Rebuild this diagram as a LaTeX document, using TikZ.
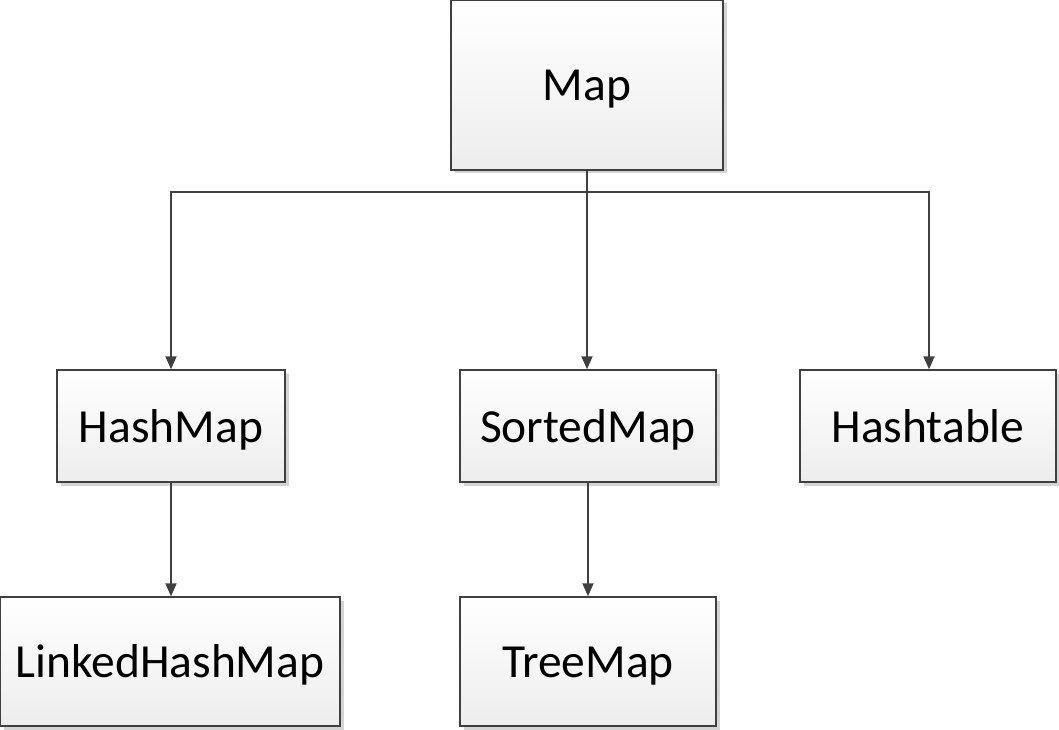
\documentclass[tikz,border=0pt]{standalone}
\usepackage{fontspec}
\setmainfont{Carlito}
\usetikzlibrary{arrows.meta,shadows}
\definecolor{edge}{HTML}{404040}
\definecolor{boxtop}{HTML}{FFFFFF}
\definecolor{boxbot}{HTML}{EDEDED}
\definecolor{shadowgray}{HTML}{D4D4D4}
\begin{document}
\begin{tikzpicture}[x=1pt,y=-1pt,
  cls/.style={draw=edge, line width=1.4pt, top color=boxtop, bottom color=boxbot,
    inner sep=0pt, text height=32pt, text depth=0pt, font=\fontsize{47.5}{56}\selectfont,
    drop shadow={shadow xshift=3.5pt, shadow yshift=-3.5pt, fill=shadowgray, opacity=1}},
  link/.style={draw=edge, line width=1.9pt, -{Triangle[length=13pt,width=11pt]}}]
\useasboundingbox (0,0) rectangle (1059,730);
\node[cls, minimum width=272pt, minimum height=170pt] (map) at (587,85) {Map};
\node[cls, minimum width=228pt, minimum height=112pt] (hash) at (171,426) {HashMap};
\node[cls, minimum width=256pt, minimum height=112pt] (sorted) at (588,426) {SortedMap};
\node[cls, minimum width=256pt, minimum height=112pt] (table) at (928,426) {Hashtable};
\node[cls, minimum width=340pt, minimum height=129pt] (linked) at (170,661.5) {LinkedHashMap};
\node[cls, minimum width=256pt, minimum height=129pt] (tree) at (588,661.5) {TreeMap};
\coordinate (j) at (587,192);
\draw[link] (map.south) -- (j) -| (hash.north);
\draw[link] (j) -- (sorted.north -| j);
\draw[link] (j) -| ([xshift=1pt]table.north);
\draw[link] (hash.south) -- (hash.south |- linked.north);
\draw[link] (sorted.south) -- (tree.north);
\end{tikzpicture}
\end{document}
